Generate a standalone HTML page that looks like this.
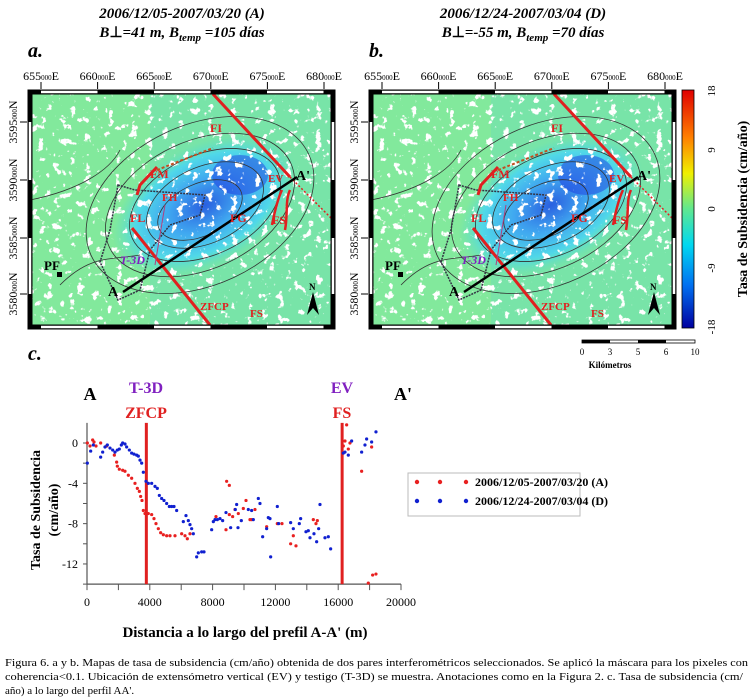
<!DOCTYPE html>
<html><head><meta charset="utf-8"><style>
html,body{margin:0;padding:0;background:#fff;}
svg{display:block;font-family:"Liberation Serif",serif;}
</style></head><body>
<svg id="fig" width="753" height="700" viewBox="0 0 753 700" xmlns="http://www.w3.org/2000/svg">
<defs>
<filter id="speck" x="0" y="0" width="1" height="1">
<feTurbulence type="fractalNoise" baseFrequency="0.13" numOctaves="3" seed="4"/>
<feColorMatrix type="matrix" values="0 0 0 0 1 0 0 0 0 1 0 0 0 0 1 14 0 0 0 -8.6"/>
</filter>
<radialGradient id="sub" cx="0.5" cy="0.5" r="0.5">
<stop offset="0" stop-color="#2a60e0"/><stop offset="0.4" stop-color="#40a8f0"/><stop offset="0.75" stop-color="#50d8e8"/><stop offset="1" stop-color="#60e0c0" stop-opacity="0"/>
</radialGradient>
<linearGradient id="cbar" x1="0" y1="0" x2="0" y2="1">
<stop offset="0" stop-color="#e00000"/><stop offset="0.2" stop-color="#ff8000"/><stop offset="0.35" stop-color="#f0f000"/><stop offset="0.5" stop-color="#60e890"/><stop offset="0.65" stop-color="#00d8f0"/><stop offset="0.82" stop-color="#0070f0"/><stop offset="1" stop-color="#0000a0"/>
</linearGradient>
</defs>
<g id="maps"></g>
<g id="colorbar">
<rect x="682" y="90" width="12" height="238" fill="url(#cbar)" stroke="#000" stroke-width="0.8"/>
<g font-size="11" text-anchor="middle">
<text transform="translate(715,91) rotate(-90)">18</text>
<text transform="translate(715,150) rotate(-90)">9</text>
<text transform="translate(715,209) rotate(-90)">0</text>
<text transform="translate(715,268) rotate(-90)">-9</text>
<text transform="translate(715,327) rotate(-90)">-18</text>
</g>
<text transform="translate(747,209) rotate(-90)" font-size="14" font-weight="bold" text-anchor="middle">Tasa de Subsidencia (cm/año)</text>
</g>
<g>
<rect x="582" y="340" width="113" height="3" fill="#fff" stroke="#000" stroke-width="0.8"/>
<rect x="582" y="340" width="28" height="3" fill="#000"/><rect x="638" y="340" width="28" height="3" fill="#000"/>
<g font-size="9" text-anchor="middle"><text x="582" y="355">0</text><text x="610" y="355">3</text><text x="638" y="355">5</text><text x="666" y="355">6</text><text x="695" y="355">10</text></g>
<text x="610" y="368" font-size="9" font-weight="bold" text-anchor="middle">Kilómetros</text>
</g>
<text x="28" y="360" font-size="20" font-weight="bold" font-style="italic">c.</text>
<g id="chart"></g>
<g font-size="11">
<text x="5" y="666" textLength="743" lengthAdjust="spacingAndGlyphs">Figura 6.  a y b.  Mapas de tasa de subsidencia (cm/año) obtenida de dos pares interferométricos seleccionados. Se aplicó la máscara para los pixeles con</text>
<text x="5" y="680" textLength="738" lengthAdjust="spacingAndGlyphs">coherencia&lt;0.1.  Ubicación de extensómetro vertical (EV) y testigo (T-3D) se muestra.  Anotaciones como en la Figura 2. c.  Tasa de subsidencia (cm/</text>
<text x="5" y="694">año) a lo largo del perfil AA'.</text>
</g>
</svg>
<script>
// ---- profile chart data ----
const redDist = [21,191,361,446,573,870,1253,1741,1889,1932,2059,2272,2420,2633,2845,3057,3206,3333,3418,3503,3588,3694,3906,4119,4267,4395,4543,4692,4862,5074,5286,5605,6029,6242,6390,6560,8216,8895,9065,8853,9065,9277,9426,9638,9957,10127,10381,10487,10700,11443,12122,12419,12971,13141,13311,14415,14585,14670,16326,16432,16538,16644,16750,17493,17918,18194,18406,18130];
const redRate = [0,-0.3,0.3,0.1,-0.3,0,-0.3,-1.2,-1.9,-2.3,-2.6,-2.7,-2.8,-3.2,-3.5,-4,-4.5,-4.8,-5.3,-5.7,-6.7,-7,-7,-7.1,-7.5,-8,-8.5,-8.9,-9.1,-9.2,-9.2,-9.2,-9,-9.2,-9.5,-9,-7.3,-3.8,-4.2,-8.6,-7.1,-7.3,-6.6,-7,-6.5,-5.7,-7.6,-7.6,-6.6,-8.3,-8,-8,-10,-9.2,-10.2,-7.6,-8,-7.7,-0.3,0.2,1.8,-0.6,0,-2.8,-13.9,-13.1,-13,-0.4];
const blueDist = [21,234,403,870,998,1146,1295,1465,1635,1783,1932,2059,2187,2272,2420,2526,2696,2845,2993,3163,3269,3376,3482,3588,3758,3906,4119,4331,4479,4607,4755,4904,5074,5244,5392,5541,5711,6135,6305,6454,6560,6666,6772,6985,7091,7303,7452,7940,8046,8152,8301,8471,8640,8853,9150,9447,9532,9617,9829,10275,10487,10594,10912,11018,11188,11443,11549,11655,11698,12122,12207,12971,13141,13523,13608,13947,14096,14203,14457,14627,14755,14840,15158,15371,15519,16326,16432,16644,16856,17493,17705,17811,18130,18406];
const blueRate = [-2,-0.8,-0.2,-1.4,-0.9,-0.4,-0.2,-0.5,-0.7,-0.9,-0.7,-0.6,-0.2,0,-0.1,-0.4,-0.7,-1,-1.1,-1.2,-1.3,-1.7,-2,-2.9,-3.8,-4,-4,-4.3,-4.5,-5.2,-5.5,-5.7,-6,-6.3,-6.3,-6.3,-6.7,-7.8,-7.2,-7.7,-8.1,-8.5,-9,-11.3,-10.9,-10.8,-10.8,-8.6,-7.8,-7.6,-7.6,-7.5,-7.7,-6.9,-8.4,-6.6,-6.1,-8.4,-7.7,-6.6,-6.7,-7.6,-5.5,-6,-9.3,-8.5,-7.4,-7.5,-11.3,-6.3,-8,-7.9,-8.5,-8,-7.5,-8.8,-8.7,-9.4,-9,-9.8,-8.5,-6.1,-9.4,-9.3,-10.5,-1,-0.9,-1.2,0.2,-0.9,-0.2,0.4,0.1,1.1];
const xTickLabels = [0,4000,8000,12000,16000,20000];
const yTickLabels = [0,-4,-8,-12];
const markerDist = [3780,16250];

const NS="http://www.w3.org/2000/svg";
function mk(parent,tag,attrs,text){const e=document.createElementNS(NS,tag);for(const k in attrs)e.setAttribute(k,attrs[k]);if(text!==undefined)e.textContent=text;parent.appendChild(e);return e;}
const X0=87,X1=401,Y0=443,PPU=10.08;
const xs=d=>X0+(d/20000)*(X1-X0);
const ys=v=>Y0-v*PPU;
const ch=document.getElementById('chart');
let ax=mk(ch,'line',{x1:X0,y1:ys(2),x2:X0,y2:ys(-14),stroke:'#555','stroke-width':1.2});


let bx=mk(ch,'line',{x1:X0,y1:ys(-14),x2:X1,y2:ys(-14),stroke:'#555','stroke-width':1.2});


for(let v=0;v>=-14;v-=2){mk(ch,'line',{x1:X0-4,y1:ys(v),x2:X0,y2:ys(v),stroke:'#555'});}
for(let d=0;d<=20000;d+=2000){mk(ch,'line',{x1:xs(d),y1:ys(-14),x2:xs(d),y2:ys(-14)+6,stroke:'#555'});}
yTickLabels.forEach(v=>{const t=mk(ch,'text',{x:X0-9,y:ys(v)+4,'font-size':12,'text-anchor':'end'},String(v));

});
xTickLabels.forEach(d=>{const t=mk(ch,'text',{x:xs(d),y:ys(-14)+22,'font-size':12,'text-anchor':'middle'},String(d));

});
markerDist.forEach(d=>{const l=mk(ch,'line',{x1:xs(d),y1:ys(2),x2:xs(d),y2:ys(-14),stroke:'#e02020','stroke-width':3});

});
redDist.forEach((d,i)=>{const c=mk(ch,'circle',{cx:xs(d),cy:ys(redRate[i]),r:1.6,fill:'#e82020'});

});
blueDist.forEach((d,i)=>{const c=mk(ch,'circle',{cx:xs(d),cy:ys(blueRate[i]),r:1.6,fill:'#1020d0'});

});
const lab=[[90,400,'A','#000',18],[146,393,'T-3D','#8020c0',16],[146,418,'ZFCP','#e02020',16],[342,393,'EV','#8020c0',16],[342,418,'FS','#e02020',16],[403,400,"A'",'#000',18]];
lab.forEach(a=>{const t=mk(ch,'text',{x:a[0],y:a[1],fill:a[3],'font-size':a[4],'font-weight':'bold','text-anchor':'middle'},a[2]);

});
let yt=mk(ch,'text',{transform:'translate(40,510) rotate(-90)','font-size':14,'font-weight':'bold','text-anchor':'middle'},'Tasa de Subsidencia');


mk(ch,'text',{transform:'translate(58,510) rotate(-90)','font-size':14,'font-weight':'bold','text-anchor':'middle'},'(cm/año)');
let xt=mk(ch,'text',{x:245,y:637,'font-size':15,'font-weight':'bold','text-anchor':'middle'},"Distancia a lo largo del prefil A-A' (m)");


const lg=mk(ch,'g',{});


mk(lg,'rect',{x:408,y:473,width:172,height:43,fill:'#fff',stroke:'#bbb'});
[[486,'#e82020','2006/12/05-2007/03/20 (A)'],[505,'#1020d0','2006/12/24-2007/03/04 (D)']].forEach(e=>{
 const g=mk(lg,'g',{});
 
 
 [417,440,466].forEach(x=>mk(g,'circle',{cx:x,cy:e[0]-4,r:2.2,fill:e[1]}));
 mk(g,'text',{x:475,y:e[0],'font-size':12,'font-weight':'bold'},e[2]);
});

// ---- maps ----
const maps=document.getElementById('maps');
function buildMap(ox,id,title,b1,b2,letter,dx){
 const g=mk(maps,'g',{transform:`translate(${ox},0)`});
 
 
 mk(g,'text',{x:182,y:18,'font-size':15,'font-weight':'bold','font-style':'italic','text-anchor':'middle'},title);
 const t2=mk(g,'text',{x:182,y:37,'font-size':15,'font-weight':'bold','font-style':'italic','text-anchor':'middle'});
 t2.innerHTML=`B<tspan font-style="normal">⊥</tspan>=${b1} m, B<tspan font-size="11" dy="4">temp</tspan><tspan dy="-4"> =${b2} días</tspan>`;
 mk(g,'text',{x:28,y:57,'font-size':20,'font-weight':'bold','font-style':'italic'},letter+'.');
 const cid='clip'+id;
 const cp=mk(g,'clipPath',{id:cid});mk(cp,'rect',{x:30,y:92,width:303,height:235});
 const inner=mk(g,'g',{'clip-path':`url(#${cid})`});
 mk(inner,'rect',{x:30,y:92,width:303,height:235,fill:'#78e4a8'});
 mk(inner,'rect',{x:30,y:92,width:120,height:235,fill:'#84ea98',opacity:0.8});
 mk(inner,'ellipse',{cx:205+dx,cy:205,rx:100,ry:60,fill:'url(#sub)',transform:`rotate(-28 ${205+dx} 205)`});
 mk(inner,'ellipse',{cx:240+dx,cy:175,rx:28,ry:20,fill:'#1a30e0',opacity:0.45});
 mk(inner,'rect',{x:30,y:92,width:303,height:235,filter:'url(#speck)'});
 [[200,205,120,80],[200,205,100,64],[205,205,80,50],[205,205,62,38],[200,210,45,26]].forEach(c=>{
  mk(inner,'ellipse',{cx:c[0]+dx,cy:c[1],rx:c[2],ry:c[3],fill:'none',stroke:'#333','stroke-width':0.8,transform:`rotate(-25 ${c[0]+dx} ${c[1]})`});
 });
 mk(inner,'path',{d:'M30,200 C80,190 110,170 120,150 M60,285 C90,255 110,260 140,255',fill:'none',stroke:'#333','stroke-width':0.8});
 mk(inner,'path',{d:'M118,185 L135,190 L205,195 L200,215 L170,225 L150,250 L140,290 L118,300 L100,262 L110,230 Z',fill:'none',stroke:'#334','stroke-width':1.5,'stroke-dasharray':'2 1'});
 mk(inner,'line',{x1:213,y1:94,x2:290,y2:177,stroke:'#e02020','stroke-width':3});
 mk(inner,'line',{x1:290,y1:177,x2:335,y2:222,stroke:'#e02020','stroke-width':1.5,'stroke-dasharray':'2 2'});
 mk(inner,'line',{x1:132,y1:228,x2:210,y2:325,stroke:'#e02020','stroke-width':3});
 mk(inner,'path',{d:'M137,195 L140,185 L157,167',fill:'none',stroke:'#e02020','stroke-width':3});
 mk(inner,'path',{d:'M157,170 L213,148',fill:'none',stroke:'#c05020','stroke-width':2,'stroke-dasharray':'3 2'});
 mk(inner,'path',{d:'M272,225 C275,210 278,198 282,190 M285,230 C288,215 285,200 290,190',fill:'none',stroke:'#e02020','stroke-width':2.5});
 mk(inner,'line',{x1:155,y1:265,x2:165,y2:205,stroke:'#b04080','stroke-width':1});
 mk(inner,'line',{x1:123,y1:292,x2:297,y2:177,stroke:'#000','stroke-width':2.5});
 mk(inner,'rect',{x:57,y:272,width:5,height:5,fill:'#000'});
 mk(inner,'path',{d:'M307,315 L313,292 L319,315 L313,308 Z',fill:'#000'});
 const labs=[[150,178,'FM',12],[162,201,'FH',11],[130,222,'FL',12],[230,222,'FG',12],[272,224,'FS',12],[250,317,'FS',11],[200,310,'ZFCP',11],[210,132,'FI',12],[268,182,'EV',11]];
 labs.forEach(l=>mk(inner,'text',{x:l[0],y:l[1],'font-size':l[3],'font-weight':'bold',fill:'#e02020'},l[2]));
 mk(inner,'text',{x:120,y:264,'font-size':12,'font-weight':'bold','font-style':'italic',fill:'#8020c0'},'T-3D');
 mk(inner,'text',{x:44,y:270,'font-size':13,'font-weight':'bold'},'PF');
 mk(inner,'text',{x:108,y:296,'font-size':14,'font-weight':'bold'},'A');
 mk(inner,'text',{x:296,y:180,'font-size':14,'font-weight':'bold'},"A'");
 mk(inner,'text',{x:309,y:290,'font-size':9,'font-weight':'bold'},'N');
 mk(g,'rect',{x:30,y:92,width:303,height:235,fill:'none',stroke:'#000','stroke-width':5});
 const segX=[30,41,97.5,154,210.5,267,323.5,333];
 for(let i=0;i<segX.length-1;i++){ if(i%2===1){mk(g,'line',{x1:segX[i],y1:92,x2:segX[i+1],y2:92,stroke:'#fff','stroke-width':2.5});mk(g,'line',{x1:segX[i],y1:327,x2:segX[i+1],y2:327,stroke:'#fff','stroke-width':2.5});}}
 const segY=[92,122,180,238,294,327];
 for(let i=0;i<segY.length-1;i++){ if(i%2===1){mk(g,'line',{x1:30,y1:segY[i],x2:30,y2:segY[i+1],stroke:'#fff','stroke-width':2.5});mk(g,'line',{x1:333,y1:segY[i],x2:333,y2:segY[i+1],stroke:'#fff','stroke-width':2.5});}}
 ['655','660','665','670','675','680'].forEach((e,i)=>{const x=41+i*56.6;
  mk(g,'line',{x1:x,y1:82,x2:x,y2:89,stroke:'#000'});
  const t=mk(g,'text',{x:x,y:80,'font-size':12,'text-anchor':'middle'});t.innerHTML=e+'<tspan font-size="7">000</tspan>E';
 });
 [['3595',122],['3590',180],['3585',238],['3580',294]].forEach(n=>{
  mk(g,'line',{x1:20,y1:n[1],x2:27,y2:n[1],stroke:'#000'});
  const t=mk(g,'text',{transform:`translate(17,${n[1]}) rotate(-90)`,'font-size':12,'text-anchor':'middle'});t.innerHTML=n[0]+'<tspan font-size="7">000</tspan>N';
 });
}
buildMap(0,'a','2006/12/05-2007/03/20 (A)','41','105','a',0);
buildMap(341,'b','2006/12/24-2007/03/04 (D)','-55','70','b',5);
</script>
</body></html>
